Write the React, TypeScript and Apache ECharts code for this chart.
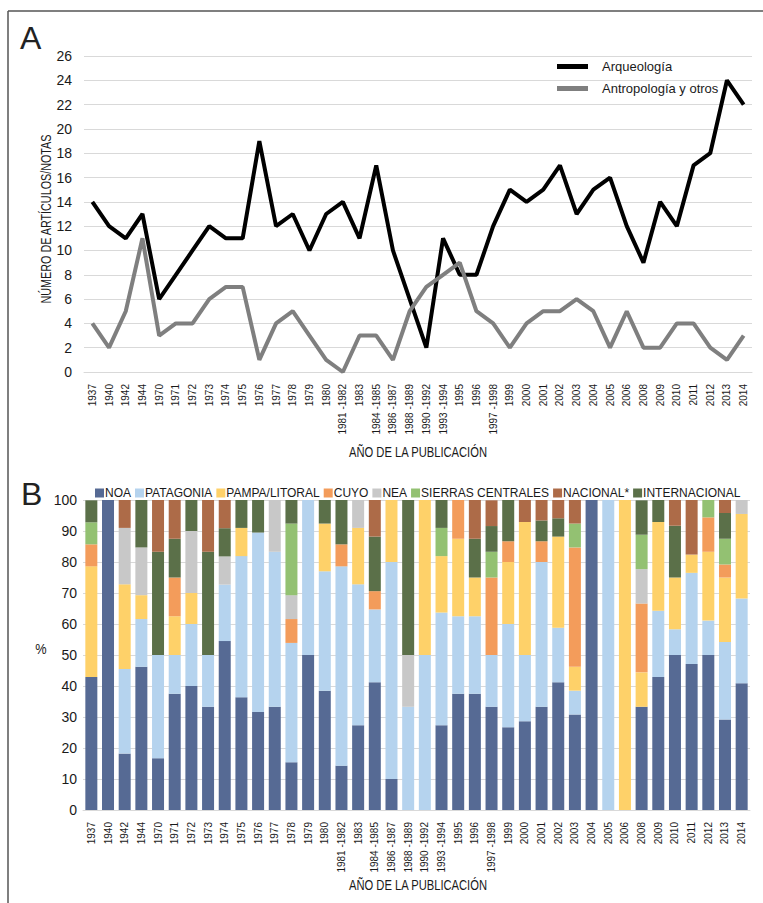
import React, { useEffect, useRef } from "react";
import * as echarts from "echarts";

const categories = [
  "1937", "1940", "1942", "1944", "1970", "1971", "1972", "1973", "1974", "1975",
  "1976", "1977", "1978", "1979", "1980", "1981 -1982", "1983", "1984 -1985", "1986 -1987", "1988 -1989",
  "1990 -1992", "1993 -1994", "1995", "1996", "1997 -1998", "1999", "2000", "2001", "2002", "2003",
  "2004", "2005", "2006", "2008", "2009", "2010", "2011", "2012", "2013", "2014",
];

const arqueologia = [14, 12, 11, 13, 6, 8, 10, 12, 11, 11, 19, 12, 13, 10, 13, 14, 11, 17, 10, 6, 2, 11, 8, 8, 12, 15, 14, 15, 17, 13, 15, 16, 12, 9, 14, 12, 17, 18, 24, 22];
const antropologia = [4, 2, 5, 11, 3, 4, 4, 6, 7, 7, 1, 4, 5, 3, 1, 0, 3, 3, 1, 5, 7, 8, 9, 5, 4, 2, 4, 5, 5, 6, 5, 2, 5, 2, 2, 4, 4, 2, 1, 3];

const noa = [42.9, 100, 18.2, 46.2, 16.7, 37.5, 40, 33.3, 54.5, 36.4, 31.6, 33.3, 15.4, 50, 38.5, 14.3, 27.3, 41.2, 10, 0, 0, 27.3, 37.5, 37.5, 33.3, 26.7, 28.6, 33.3, 41.2, 30.8, 100, 0, 0, 33.3, 42.9, 50, 47.1, 50, 29.2, 40.9];
const patagonia = [0, 0, 27.3, 15.4, 33.3, 12.5, 20, 16.7, 18.2, 45.5, 57.9, 50, 38.5, 50, 38.5, 64.3, 45.5, 23.5, 70, 33.3, 50, 36.4, 25, 25, 16.7, 33.3, 21.4, 46.7, 17.6, 7.7, 0, 100, 0, 0, 21.4, 8.3, 29.4, 11.1, 25, 27.3];
const pampa = [35.7, 0, 27.3, 7.7, 0, 12.5, 10, 0, 0, 9.1, 0, 0, 0, 0, 15.4, 0, 18.2, 0, 20, 0, 50, 18.2, 25, 12.5, 0, 20, 42.9, 0, 29.4, 7.7, 0, 0, 100, 11.1, 28.6, 16.7, 5.9, 22.2, 20.8, 27.3];
const cuyo = [7.1, 0, 0, 0, 0, 12.5, 0, 0, 0, 0, 0, 0, 7.7, 0, 0, 7.1, 0, 5.9, 0, 0, 0, 0, 12.5, 0, 25, 6.7, 0, 6.7, 0, 38.5, 0, 0, 0, 22.2, 0, 0, 0, 11.1, 4.2, 0];
const nea = [0, 0, 18.2, 15.4, 0, 0, 20, 0, 9.1, 0, 0, 16.7, 7.7, 0, 0, 0, 9.1, 0, 0, 16.7, 0, 0, 0, 0, 0, 0, 0, 0, 0, 0, 0, 0, 0, 11.1, 0, 0, 0, 0, 0, 4.5];
const sierras = [7.1, 0, 0, 0, 0, 0, 0, 0, 0, 0, 0, 0, 23.1, 0, 0, 0, 0, 0, 0, 0, 0, 9.1, 0, 0, 8.3, 0, 0, 0, 0, 7.7, 0, 0, 0, 11.1, 0, 0, 0, 5.6, 8.3, 0];
const internacional = [7.1, 0, 0, 15.4, 33.3, 12.5, 10, 33.3, 9.1, 9.1, 10.5, 0, 7.7, 0, 7.7, 14.3, 0, 17.6, 0, 50, 0, 9.1, 0, 12.5, 8.3, 13.3, 0, 6.7, 5.9, 0, 0, 0, 0, 11.1, 7.1, 16.7, 0, 0, 8.3, 0];
const nacional = [0, 0, 9.1, 0, 16.7, 12.5, 0, 16.7, 9.1, 0, 0, 0, 0, 0, 0, 0, 0, 11.8, 0, 0, 0, 0, 0, 12.5, 8.3, 0, 7.1, 6.7, 5.9, 7.7, 0, 0, 0, 0, 0, 8.3, 17.6, 0, 4.2, 0];

const lineNames = ["Arqueología", "Antropología y otros"];
const regionNames = ["NOA", "PATAGONIA", "PAMPA/LITORAL", "CUYO", "NEA", "SIERRAS CENTRALES", "NACIONAL*", "INTERNACIONAL"];

const FONT = "'Liberation Sans', Arial, sans-serif";
const GRID_C = "#d9d9d9";
const TXT = "#1a1a1a";

export default function App() {
  const ref = useRef<HTMLDivElement>(null);
  useEffect(() => {
    const chart = echarts.init(ref.current!, null, { renderer: "svg" });
    const regionColors: Record<string, string> = {
      "NOA": "#566a94",
      "PATAGONIA": "#b5d3ee",
      "PAMPA/LITORAL": "#fed169",
      "CUYO": "#f39c5b",
      "NEA": "#c8c8c8",
      "SIERRAS CENTRALES": "#93c172",
      "NACIONAL*": "#ad6b48",
      "INTERNACIONAL": "#5b7049",
    };
    const regionData: Record<string, number[]> = {
      "NOA": noa,
      "PATAGONIA": patagonia,
      "PAMPA/LITORAL": pampa,
      "CUYO": cuyo,
      "NEA": nea,
      "SIERRAS CENTRALES": sierras,
      "INTERNACIONAL": internacional,
      "NACIONAL*": nacional,
    };
    const stackOrder = ["NOA", "PATAGONIA", "PAMPA/LITORAL", "CUYO", "NEA", "SIERRAS CENTRALES", "INTERNACIONAL", "NACIONAL*"];
    const xAxisBase = (gridIndex: number) => ({
      type: "category" as const,
      gridIndex,
      data: categories,
      boundaryGap: true,
      axisTick: { show: false },
      axisLine: { lineStyle: { color: GRID_C, width: 1 } },
      axisLabel: { rotate: 90, interval: 0, fontSize: 10, margin: 12, color: TXT, fontFamily: FONT },
    });
    const condensedText = (text: string, x: number, y: number, rot: number, size: number, sx: number) => ({
      type: "text",
      x,
      y,
      rotation: rot,
      scaleX: sx,
      style: { text, fontSize: size, fill: TXT, fontFamily: FONT, align: "center", verticalAlign: "middle" },
    });
    const option: any = {
      animation: false,
      backgroundColor: "#ffffff",
      textStyle: { fontFamily: FONT },
      grid: [
        { left: 84, top: 56, width: 668, height: 316 },
        { left: 83, top: 500, width: 667, height: 310 },
      ],
      xAxis: [xAxisBase(0), xAxisBase(1)],
      yAxis: [
        {
          type: "value", gridIndex: 0, min: 0, max: 26, interval: 2,
          axisLine: { show: false }, axisTick: { show: false },
          splitLine: { lineStyle: { color: GRID_C, width: 1 } },
          axisLabel: { fontSize: 14, color: TXT, margin: 12, fontFamily: FONT },
        },
        {
          type: "value", gridIndex: 1, min: 0, max: 100, interval: 10,
          axisLine: { show: false }, axisTick: { show: false },
          splitLine: { lineStyle: { color: GRID_C, width: 1 } },
          axisLabel: { fontSize: 14, color: TXT, margin: 6, fontFamily: FONT },
        },
      ],
      legend: [
        {
          data: lineNames,
          orient: "vertical",
          left: 552,
          top: 55,
          icon: "rect",
          itemWidth: 31,
          itemHeight: 5,
          itemGap: 9,
          textStyle: { fontSize: 13, color: TXT, fontFamily: FONT, padding: [0, 0, 0, 9] },
        },
        {
          data: regionNames,
          orient: "horizontal",
          left: 90,
          top: 482,
          width: 673,
          icon: "rect",
          itemWidth: 9,
          itemHeight: 9,
          itemGap: 4,
          textStyle: { fontSize: 12, color: TXT, fontFamily: FONT, padding: [0, 0, 0, -4] },
        },
      ],
      graphic: [
        { type: "line", shape: { x1: 8, y1: 11, x2: 763, y2: 11 }, style: { stroke: "#555", lineWidth: 1.5 } },
        { type: "line", shape: { x1: 8, y1: 11, x2: 8, y2: 903 }, style: { stroke: "#555", lineWidth: 1.5 } },
        { type: "text", left: 20, top: 22, style: { text: "A", fontSize: 32, fill: "#222", fontFamily: FONT } },
        { type: "text", left: 21, top: 478, style: { text: "B", fontSize: 32, fill: "#222", fontFamily: FONT } },
        condensedText("NÚMERO DE ARTÍCULOS/NOTAS", 47, 219, Math.PI / 2, 14, 0.77),
        condensedText("AÑO DE LA PUBLICACIÓN", 418, 453, 0, 14, 0.8),
        condensedText("AÑO DE LA PUBLICACIÓN", 418, 886, 0, 14, 0.8),
        condensedText("%", 41, 649, 0, 15, 0.85),
      ],
      series: [
        {
          name: lineNames[0], type: "line", xAxisIndex: 0, yAxisIndex: 0, data: arqueologia,
          symbol: "none", lineStyle: { color: "#000000", width: 4 }, itemStyle: { color: "#000000" },
        },
        {
          name: lineNames[1], type: "line", xAxisIndex: 0, yAxisIndex: 0, data: antropologia,
          symbol: "none", lineStyle: { color: "#7f7f7f", width: 4 }, itemStyle: { color: "#7f7f7f" },
        },
        ...stackOrder.map((n) => ({
          name: n, type: "bar", xAxisIndex: 1, yAxisIndex: 1, stack: "total",
          data: regionData[n], barWidth: 12,
          itemStyle: { color: regionColors[n] },
        })),
      ],
    };
    chart.setOption(option);
    return () => chart.dispose();
  }, []);
  return (
    <div
      ref={ref}
      style={{ position: "fixed", left: 0, top: 0, width: 763, height: 903, background: "#fff" }}
    />
  );
}
